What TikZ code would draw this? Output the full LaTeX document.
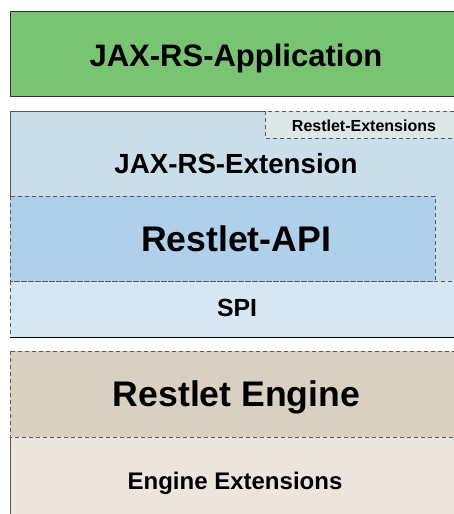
\documentclass[tikz,border=0pt]{standalone}
\usepackage{fontspec}
\setmainfont{Liberation Sans}
\usepackage{tikz}
\usetikzlibrary{calc}

\definecolor{appgreen}{RGB}{120,196,114}
\definecolor{extblue}{RGB}{201,221,235}
\definecolor{restgray}{RGB}{222,231,232}
\definecolor{apiblue}{RGB}{176,207,234}
\definecolor{spiblue}{RGB}{214,230,244}
\definecolor{engtan}{RGB}{217,208,193}
\definecolor{engext}{RGB}{235,229,222}
\definecolor{edgegray}{RGB}{85,90,95}

\begin{document}
\begin{tikzpicture}[x=1pt,y=-1pt,
    layer/.style={draw=black!80,line width=0.9pt},
    dashlayer/.style={draw=edgegray,line width=0.9pt,dash pattern=on 4pt off 3pt},
    lbl/.style={anchor=base,inner sep=0pt,font=\bfseries}]
        \useasboundingbox (0,0) rectangle (454,514);
        \clip (0,0) rectangle (454,514);
        \fill[white] (0,0) rectangle (454,514);
        \draw[layer,fill=appgreen] (10,11) rectangle (462,96);
        \node[lbl,font=\bfseries\fontsize{31}{36}\selectfont] (app) at (236,66) {JAX-RS-Application};
        \draw[layer,draw=edgegray,fill=extblue] (10,111) rectangle (462,337);
        \draw[dashlayer,fill=restgray] (265,111) rectangle (462,138);
        \node[lbl,font=\bfseries\fontsize{16}{19}\selectfont] (rext) at (364,131.7) {Restlet-Extensions};
        \node[lbl,font=\bfseries\fontsize{27.7}{32}\selectfont] (jaxext) at (236,173.3) {JAX-RS-Extension};
        \draw[dashlayer,fill=spiblue] (10,281) rectangle (462,337);
        \draw[dashlayer,fill=apiblue] (10,196) rectangle (435,281);
        \node[lbl,font=\bfseries\fontsize{35.6}{40}\selectfont] (api) at (236,251.7) {Restlet-API};
        \node[lbl,font=\bfseries\fontsize{24.8}{29}\selectfont] (spi) at (237,316.7) {SPI};
        \draw[black,line width=1pt] (10,337) -- (462,337);
        \draw[layer,draw=edgegray,fill=engext] (10,351) rectangle (462,520);
        \draw[dashlayer,fill=engtan] (10,351) rectangle (462,437);
        \node[lbl,font=\bfseries\fontsize{35.6}{40}\selectfont] (eng) at (236.5,406) {Restlet Engine};
        \node[lbl,font=\bfseries\fontsize{24}{28}\selectfont] (engx) at (235,489) {Engine Extensions};
    \end{tikzpicture}
\end{document}
